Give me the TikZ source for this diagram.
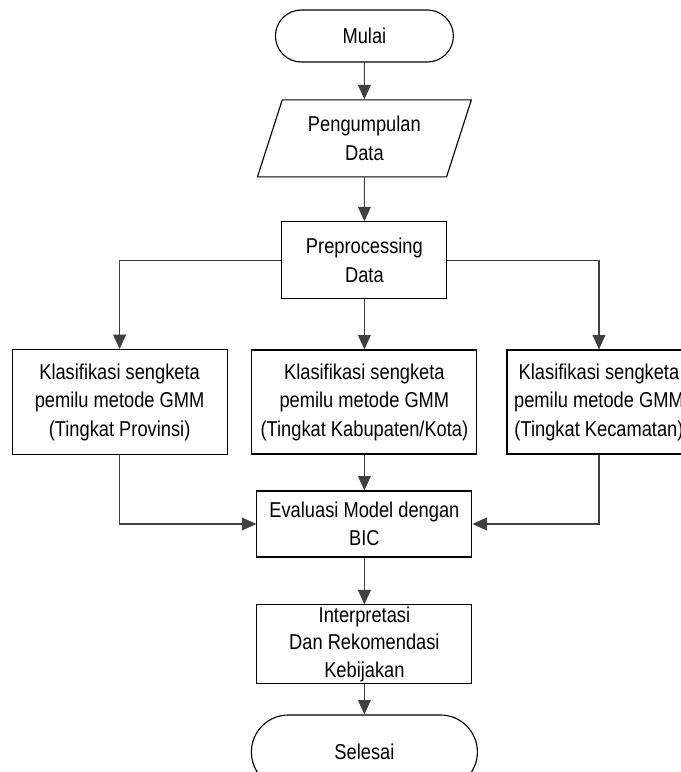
\documentclass[tikz,border=0pt]{standalone}
\usepackage{fontspec}
\setmainfont{Liberation Sans}[FakeStretch=0.85]
\usetikzlibrary{shapes.geometric,arrows.meta}

\tikzset{
  proses/.style={draw, thick, rectangle, align=center, inner sep=0pt},
  terminal/.style={draw, thick, rectangle, rounded corners=#1, align=center, inner sep=0pt},
  masukan/.style={draw, thick, trapezium, trapezium left angle=69, trapezium right angle=111,
    trapezium stretches=true, align=center, inner sep=0pt},
  panah/.style={draw=black!75, thick, -{Triangle[length=.36cm,width=.32cm]}},
}

\begin{document}
\begin{tikzpicture}[font=\fontsize{15.3}{20.3}\selectfont, line width=.7pt]

\useasboundingbox (0,0) rectangle (17.025,19.3);
\clip (0,0) rectangle (17.025,19.3);

\node[terminal=.65cm, minimum width=4.45cm, minimum height=1.3cm] (mulai) at (9.11,18.4) {Mulai};
\node[masukan, minimum width=5.35cm, minimum height=1.925cm] (data) at (9.11,15.84) {Pengumpulan\\Data};
\node[proses, minimum width=4.125cm, minimum height=1.925cm] (prep) at (9.11,12.79) {Preprocessing\\Data};

\node[proses, minimum width=5.375cm, minimum height=2.62cm] (prov) at (2.99,9.25) {Klasifikasi sengketa\\pemilu metode GMM\\(Tingkat Provinsi)};
\node[proses, minimum width=5.625cm, minimum height=2.6cm] (kab) at (9.11,9.25) {Klasifikasi sengketa\\pemilu metode GMM\\(Tingkat Kabupaten/Kota)};
\node[proses, minimum width=4.6cm, minimum height=2.6cm] (kec) at (14.975,9.25) {Klasifikasi sengketa\\pemilu metode GMM\\(Tingkat Kecamatan)};

\node[proses, minimum width=5.375cm, minimum height=1.65cm] (eval) at (9.11,6.2) {Evaluasi Model dengan\\BIC};
\node[proses, minimum width=5.375cm, minimum height=1.975cm, font=\fontsize{15.3}{19.4}\selectfont] (interp) at (9.11,3.19) {Interpretasi\\Dan Rekomendasi\\Kebijakan};
\node[terminal=.925cm, minimum width=5.65cm, minimum height=1.85cm] (selesai) at (9.11,.5) {Selesai};

\draw[panah] (mulai) -- (data);
\draw[panah] (data) -- (prep);

\draw[panah] (prep.west) -| (prov.north);
\draw[panah] (prep) -- (kab);
\draw[panah] (prep.east) -| (kec.north);

\draw[panah] (prov.south) |- (eval.west);
\draw[panah] (kab) -- (eval);
\draw[panah] (kec.south) |- (eval.east);

\draw[panah] (eval) -- (interp);
\draw[panah] (interp) -- (selesai);

\end{tikzpicture}
\end{document}
